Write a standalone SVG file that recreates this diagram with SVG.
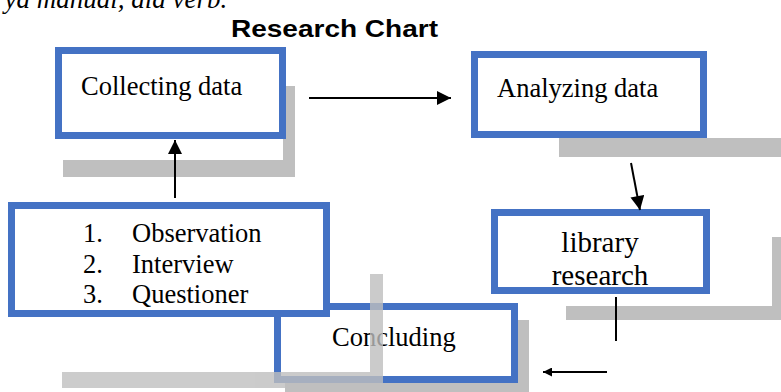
<svg xmlns="http://www.w3.org/2000/svg" width="781" height="392" viewBox="0 0 781 392">
<style>
.sh{fill:#BFBFBF}
.box{fill:#FFFFFF;stroke:#4472C4;stroke-width:7}
.t{font-family:"Liberation Serif","Times New Roman",serif;font-size:26.5px;fill:#000}
.c{stroke:#000;stroke-width:2;fill:none}
</style>
<defs>
<marker id="ah" viewBox="0 0 10 10" refX="10" refY="5" markerWidth="7.5" markerHeight="7" markerUnits="strokeWidth" orient="auto">
<path d="M0,0 L10,5 L0,10 Z" fill="#000"/>
</marker>
<marker id="ahs" viewBox="0 0 10 10" refX="10" refY="5" markerWidth="5.5" markerHeight="4.5" markerUnits="strokeWidth" orient="auto">
<path d="M0,0 L10,5 L0,10 Z" fill="#000"/>
</marker>
</defs>
<rect width="781" height="392" fill="#FFFFFF"/>
<text x="-6" y="7.5" font-family="Liberation Serif, serif" font-style="italic" font-size="27px">rya manual, dia verb.</text>
<text x="231" y="37" font-family="Liberation Sans, Arial, sans-serif" font-weight="bold" font-size="24px" textLength="207" lengthAdjust="spacingAndGlyphs">Research Chart</text>

<g id="collecting">
<rect class="sh" x="283" y="86" width="12" height="91"/>
<rect class="sh" x="63" y="160" width="232" height="17"/>
<rect class="box" x="58.5" y="50.5" width="224" height="85"/>
<text class="t" x="81" y="95">Collecting data</text>
</g>

<g id="analyzing">
<rect class="sh" x="559" y="138" width="222" height="19"/>
<rect class="box" x="474.5" y="54.5" width="229" height="80"/>
<text class="t" x="497" y="97">Analyzing data</text>
</g>

<g id="library">
<rect class="sh" x="772" y="237" width="9" height="83"/>
<rect class="sh" x="566" y="306" width="215" height="14"/>
<rect class="box" x="494.5" y="212.5" width="212" height="78"/>
<text class="t" x="600" y="252" text-anchor="middle" style="font-size:29px">library</text>
<text class="t" x="600" y="285" text-anchor="middle" style="font-size:29px">research</text>
</g>

<g id="concluding">
<rect class="sh" x="512" y="320" width="17" height="72"/>
<rect class="sh" x="285" y="383" width="244" height="9"/>
<rect class="box" x="277.5" y="306.5" width="237" height="73" style="fill:none"/>
<text class="t" x="332" y="346">Concluding</text>
</g>

<g id="observation">
<rect class="box" x="11.5" y="205.5" width="315" height="108"/>
<text class="t" x="83" y="242">1.</text>
<text class="t" x="132" y="242">Observation</text>
<text class="t" x="83" y="272.5">2.</text>
<text class="t" x="132" y="272.5">Interview</text>
<text class="t" x="83" y="303">3.</text>
<text class="t" x="132" y="303">Questioner</text>
<g opacity="0.8">
<rect class="sh" x="370" y="274" width="13" height="114"/>
<rect class="sh" x="62" y="372" width="308" height="16"/>
</g>
</g>

<g id="connectors">
<line class="c" x1="175" y1="198" x2="175" y2="140" marker-end="url(#ah)"/>
<line class="c" x1="309" y1="98" x2="451" y2="98" marker-end="url(#ah)"/>
<line class="c" x1="631" y1="163" x2="640" y2="210" marker-end="url(#ah)"/>
<line class="c" x1="616" y1="297" x2="616" y2="341"/>
<line class="c" x1="607" y1="372" x2="543" y2="372" marker-end="url(#ahs)"/>
</g>
</svg>
